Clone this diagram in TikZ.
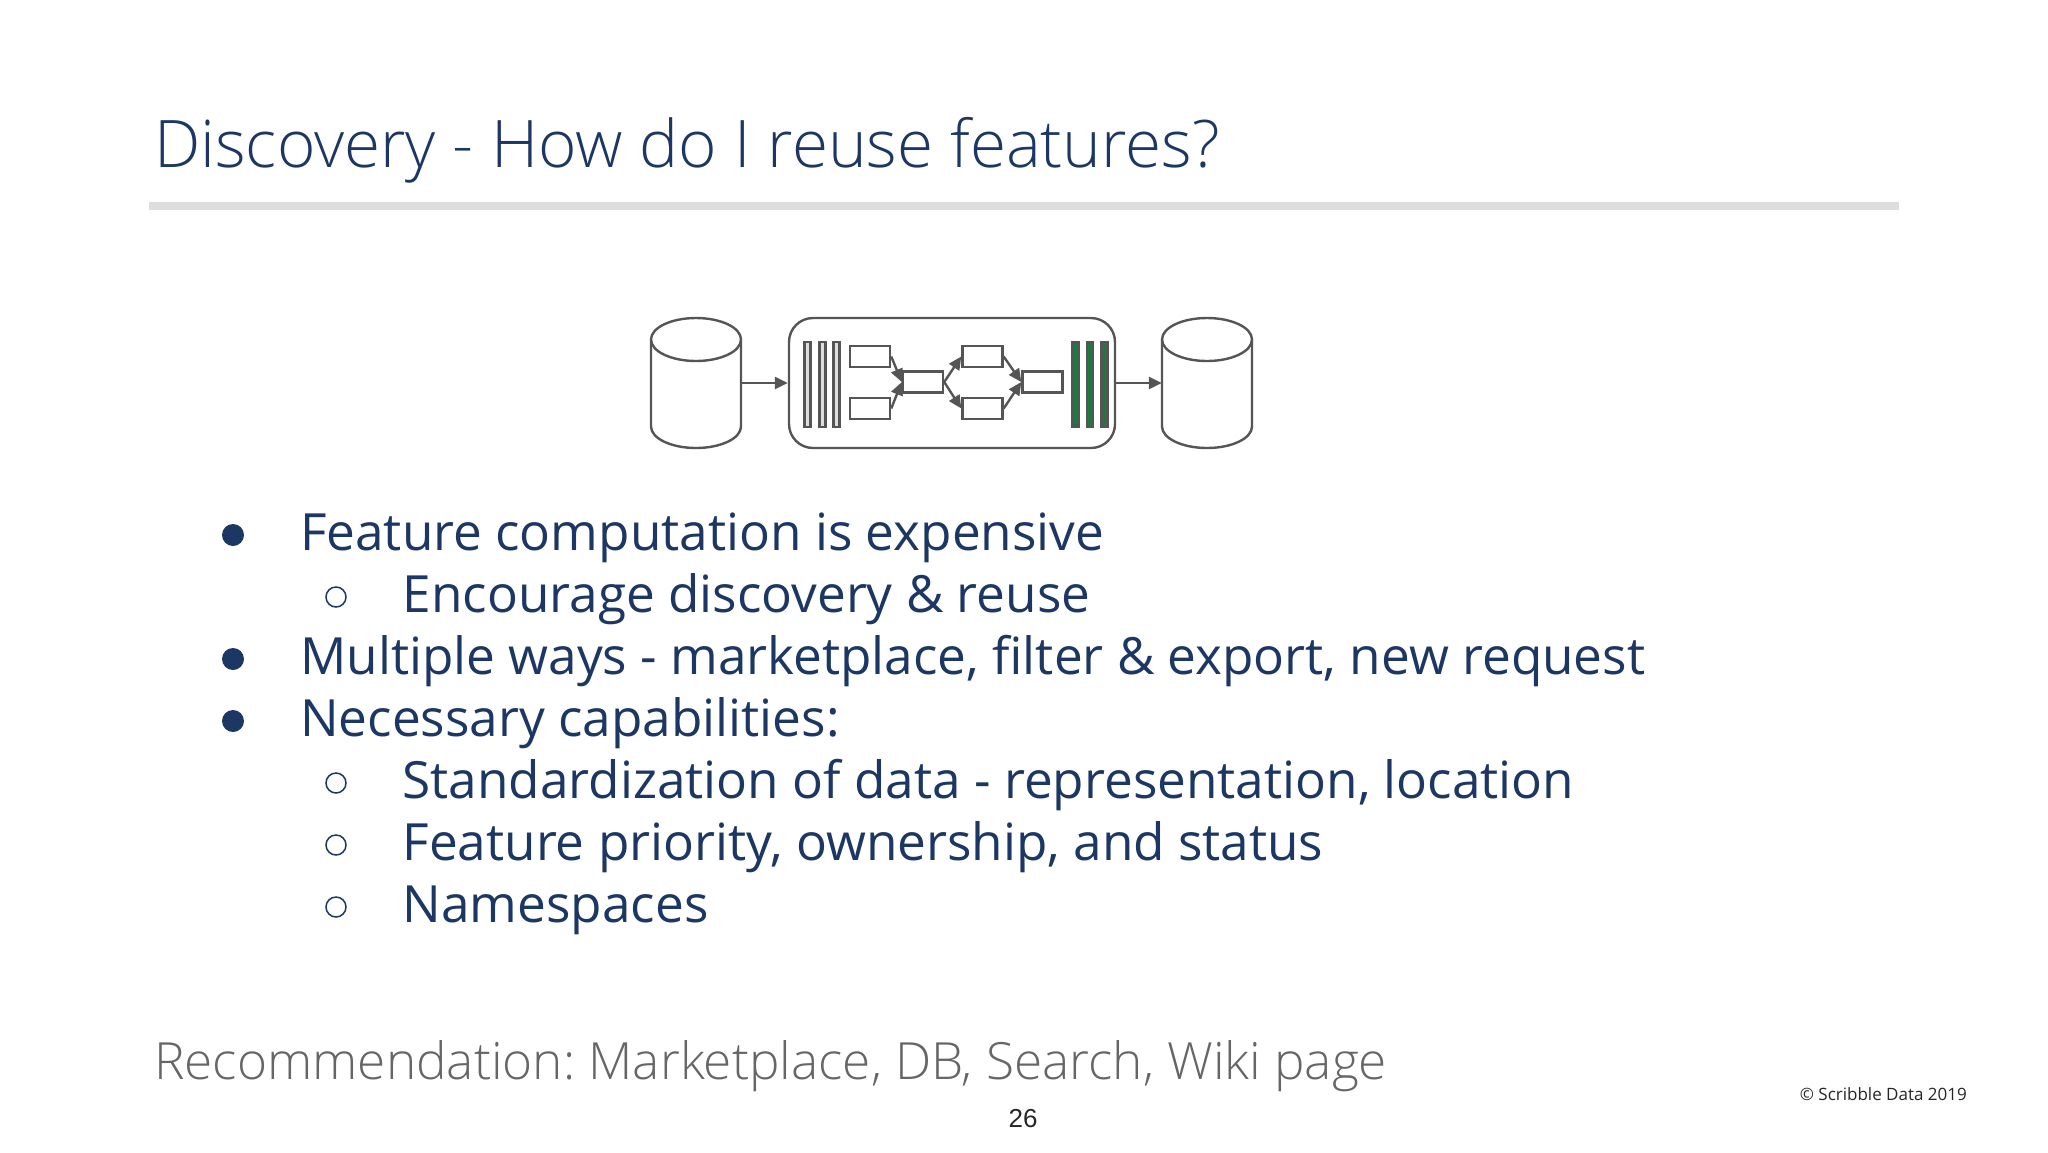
\documentclass[tikz,border=0pt]{standalone}
\usepackage{fontspec}
\usepackage{tikz}
\usetikzlibrary{arrows.meta}
\setmainfont{Open Sans}
\newfontfamily\lightfont[UprightFont=* Light]{Open Sans}
\newfontfamily\pagefont{Liberation Sans}
\definecolor{navy}{HTML}{1C3763}
\definecolor{linegray}{HTML}{555555}
\definecolor{barfill}{HTML}{DDDDDD}
\definecolor{bargreen}{HTML}{1B7A3D}
\frenchspacing
\newcommand{\storeoutline}[1]{
  \draw [draw=linegray,line width=2.4pt,shift={(#1.center)}] (-45,-43.5) -- (-45,43.5) arc[start angle=180,end angle=0,x radius=45,y radius=21.5] -- (45,-43.5);
  \draw [draw=linegray,line width=2.4pt,shift={(#1.center)}] (0,-43.5) ellipse[x radius=45,y radius=21.5];
}
\tikzset{
  store/.style={rectangle,minimum width=90pt,minimum height=130pt,inner sep=0pt},
  job/.style={draw=linegray,line width=2.4pt,rectangle,rounded corners=24pt,minimum width=326pt,minimum height=130pt,inner sep=0pt},
  stepbox/.style={draw=linegray,line width=2.4pt,rectangle,minimum width=40pt,minimum height=21pt,inner sep=0pt},
  inbar/.style={draw=linegray,line width=2.4pt,fill=barfill,rectangle,minimum width=6pt,minimum height=85pt,inner sep=0pt},
  outbar/.style={inbar,fill=bargreen},
  flow/.style={draw=linegray,line width=2.4pt,-{Triangle[length=13pt,width=12pt]}},
  item/.style={anchor=base west,inner sep=0pt,text=navy,font=\fontsize{51.3}{60}\selectfont},
  dot/.style={circle,fill=navy,minimum size=22pt,inner sep=0pt},
  ring/.style={circle,draw=navy,line width=1.5pt,minimum size=20pt,inner sep=0pt}
}
\begin{document}
\begin{tikzpicture}[x=1pt,y=-1pt]
\useasboundingbox (0,0) rectangle (2048,1152);
\node [anchor=base west,inner sep=0pt,text=navy,font=\lightfont\fontsize{65.6}{78}\selectfont] (title) at(154,167){Discovery - How do I reuse features?};
\fill [barfill] (149,202) rectangle (1899,210);

\node [store] (dbin) at(696,383){};
\node [job] (spark) at(952,383){};
\node [store] (dbout) at(1207,383){};
\storeoutline{dbin}
\storeoutline{dbout}
\node [inbar] (in1) at(807.5,384.5){};
\node [inbar] (in2) at(822.5,384.5){};
\node [inbar] (in3) at(836.5,384.5){};
\node [stepbox] (s1) at(870,356.5){};
\node [stepbox] (s2) at(870,408.5){};
\node [stepbox] (s3) at(923,382){};
\node [stepbox] (s4) at(982.5,356.5){};
\node [stepbox] (s5) at(982.5,408.5){};
\node [stepbox] (s6) at(1042.5,382){};
\node [outbar] (out1) at(1075.5,384.5){};
\node [outbar] (out2) at(1090,384.5){};
\node [outbar] (out3) at(1104.5,384.5){};
\draw[flow](dbin) -- (spark);
\draw[flow](spark) -- (dbout);
\draw[flow](s1.east) -- (s3.west);
\draw[flow](s2.east) -- (s3.west);
\draw[flow](s3.east) -- (s4.west);
\draw[flow](s3.east) -- (s5.west);
\draw[flow](s4.east) -- (s6.west);
\draw[flow](s5.east) -- (s6.west);

\node [dot] (b1) at(233,535){};
\node [item] (t1) at(300,550){Feature computation is expensive};
\node [ring] (c1) at(336,597){};
\node [item] (t2) at(402.5,612){Encourage discovery \& reuse};
\node [dot] (b2) at(233,659){};
\node [item] (t3) at(300,674){Multiple ways - marketplace, filter \& export, new request};
\node [dot] (b3) at(233,721){};
\node [item] (t4) at(300,736){Necessary capabilities:};
\node [ring] (c2) at(336,783){};
\node [item] (t5) at(402.5,798){Standardization of data - representation, location};
\node [ring] (c3) at(336,845){};
\node [item] (t6) at(402.5,860){Feature priority, ownership, and status};
\node [ring] (c4) at(336,907){};
\node [item] (t7) at(402.5,922){Namespaces};

\node [anchor=base west,inner sep=0pt,text=linegray!90,font=\lightfont\fontsize{51.3}{60}\selectfont] (rec) at(154,1079){Recommendation: Marketplace, DB, Search, Wiki page};
\node [anchor=base,inner sep=0pt,text=black!85,font=\pagefont\fontsize{26}{30}\selectfont] (num) at(1023,1127.5){26};
\node [anchor=base east,inner sep=0pt,text=black!85,font=\fontsize{17}{20}\selectfont] (copy) at(1967,1100){© Scribble Data 2019};
\end{tikzpicture}
\end{document}
